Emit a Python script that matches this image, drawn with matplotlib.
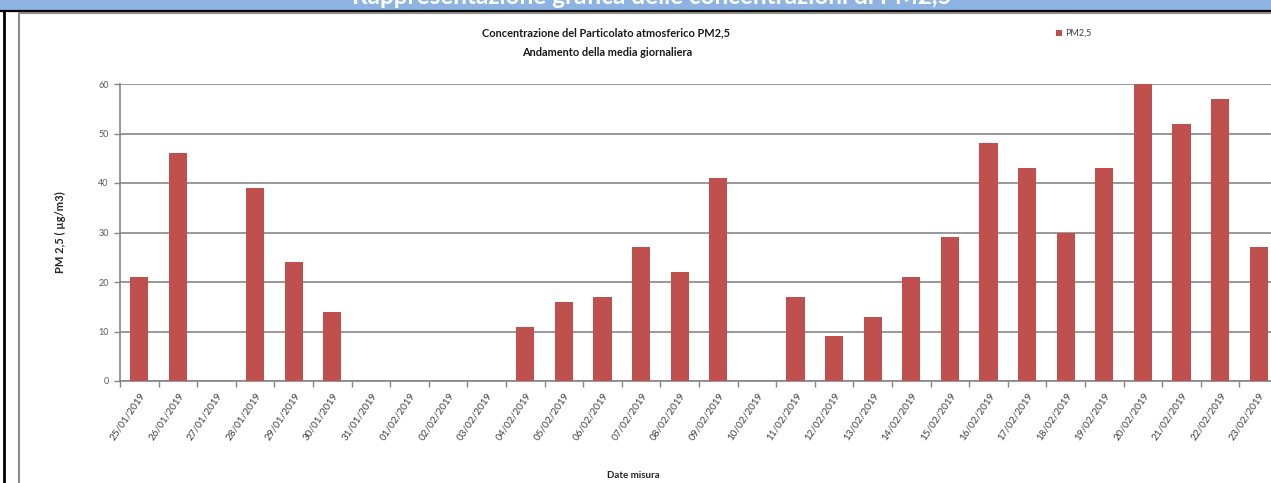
import numpy as np
import matplotlib
matplotlib.use("Agg")
import matplotlib.pyplot as plt
from matplotlib.patches import Rectangle
from matplotlib.lines import Line2D

dates = ['25/01/2019', '26/01/2019', '27/01/2019', '28/01/2019', '29/01/2019',
         '30/01/2019', '31/01/2019', '01/02/2019', '02/02/2019', '03/02/2019',
         '04/02/2019', '05/02/2019', '06/02/2019', '07/02/2019', '08/02/2019',
         '09/02/2019', '10/02/2019', '11/02/2019', '12/02/2019', '13/02/2019',
         '14/02/2019', '15/02/2019', '16/02/2019', '17/02/2019', '18/02/2019',
         '19/02/2019', '20/02/2019', '21/02/2019', '22/02/2019', '23/02/2019']
pm25 = [21, 46, 0, 39, 24, 14, 0, 0, 0, 0,
        11, 16, 17, 27, 22, 41, 0, 17, 9, 13,
        21, 29, 48, 43, 30, 43, 60, 52, 57, 27]
yticks = [0, 10, 20, 30, 40, 50, 60]

W, H = 1271, 483
plt.rcParams['font.family'] = ['Lato', 'DejaVu Sans']

fig = plt.figure(figsize=(W / 100, H / 100), dpi=100)


def fx(px):
    return px / W


def fy(py):
    return 1 - py / H


# header band and frame
fig.add_artist(Rectangle((0, fy(10)), 1, 1 - fy(10), transform=fig.transFigure,
                         facecolor='#8db3e2', edgecolor='none'))
fig.add_artist(Line2D([0, 1], [fy(10.5), fy(10.5)], transform=fig.transFigure,
                      color='black', lw=1.6))
fig.add_artist(Line2D([fx(4), fx(4)], [0, fy(10.5)], transform=fig.transFigure,
                      color='black', lw=2))
fig.add_artist(Line2D([fx(18.5), fx(18.5)], [0, fy(12.5)], transform=fig.transFigure,
                      color='#8c8c8c', lw=1.5))
fig.add_artist(Line2D([fx(18.5), 1], [fy(12.5), fy(12.5)], transform=fig.transFigure,
                      color='#8c8c8c', lw=1.5))
# header title, cut by the top edge as in the source page
fig.text(fx(652), fy(4), 'Rappresentazione grafica delle concentrazioni di PM2,5',
         ha='center', va='baseline', color='white', fontsize=17.5, fontweight='bold')

# plot area
left, right, bottom, top = 120, 120 + 30 * 38.6, 381, 84
ax = fig.add_axes([fx(left), fy(bottom), fx(right - left), fy(top) - fy(bottom)])

x = np.arange(len(dates))
ax.bar(x, pm25, width=0.47, color='#c0504d', linewidth=0, zorder=3)

ax.set_xlim(-0.5, len(dates) - 0.5)
ax.set_ylim(0, 60)
ax.set_yticks(yticks)
ax.yaxis.grid(True, color='#868686', lw=1.2)
ax.set_axisbelow(True)

ax.set_xticks(x)
ax.set_xticklabels(dates, rotation=56, ha='right', rotation_mode='anchor',
                   fontsize=7.2, color='#404040')
ax.set_xticks(np.arange(-0.5, len(dates), 1), minor=True)
ax.tick_params(axis='x', which='major', length=0, pad=7)
ax.tick_params(axis='x', which='minor', length=4, color='#868686', width=1)
ax.tick_params(axis='y', length=4, color='#868686', width=1, labelsize=6.5,
               labelcolor='#595959', pad=4)

for s in ['top', 'right']:
    ax.spines[s].set_visible(False)
for s in ['left', 'bottom']:
    ax.spines[s].set_color('#868686')
    ax.spines[s].set_linewidth(1.2)

ax.set_ylabel('PM 2,5 ( µg/m3)', fontsize=8, fontweight='bold', color='#262626')
ax.yaxis.set_label_coords(-0.047, 0.5)

fig.text(fx(633), fy(476), 'Date misura', ha='center', va='center',
         fontsize=7, fontweight='bold', color='#262626')
fig.text(fx(606), fy(33), 'Concentrazione del Particolato atmosferico PM2,5',
         ha='center', va='center', fontsize=7.9, fontweight='bold', color='#1a1a1a')
fig.text(fx(607), fy(53), 'Andamento della media giornaliera',
         ha='center', va='center', fontsize=7.9, fontweight='bold', color='#1a1a1a')

# legend
fig.add_artist(Rectangle((fx(1056), fy(36)), fx(6), fy(30) - fy(36),
                         transform=fig.transFigure, facecolor='#c0504d', edgecolor='none'))
fig.text(fx(1065), fy(33), 'PM2,5', ha='left', va='center', fontsize=6.5, color='#404040')

fig.savefig('out.png', dpi=100)
